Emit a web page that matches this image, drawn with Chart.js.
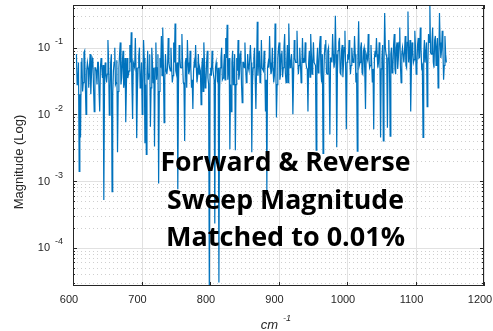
<!DOCTYPE html>
<html>
<head>
<meta charset="utf-8">
<script src="https://cdn.jsdelivr.net/npm/chart.js@4.4.0/dist/chart.umd.min.js"></script>
<style>
    html, body { margin: 0; padding: 0; background: #fff; }
    #wrap { position: relative; width: 493px; height: 331px; }
</style>
</head>
<body>
<div id="wrap"><canvas id="sweepChart" width="493" height="331"></canvas></div>
<script>
// Sweep sampling grid (cm^-1)
const sweepStart = 605;
const sweepStep = 1;

// Magnitude per sample, one row = 20 cm^-1
const magnitude = [
    0.08, 0.028, 0.03, 0.06, 0.0014, 0.02, 0.0045, 0.06, 0.07, 0.022, 0.03, 0.085, 0.09, 0.028, 0.01, 0.045, 0.06, 0.05, 0.025, 0.05,
    0.08, 0.02, 0.04, 0.07, 0.065, 0.025, 0.011, 0.05, 0.05, 0.045, 0.028, 0.06, 0.06, 0.022, 0.011, 0.05, 0.07, 0.05, 0.035, 0.055,
    0.00052, 0.028, 0.06, 0.04, 0.03, 0.04, 0.13, 0.06, 0.0097, 0.022, 0.06, 0.08, 0.00069, 0.02, 0.045, 0.06, 0.1, 0.028, 0.03, 0.065,
    0.0027, 0.022, 0.05, 0.08, 0.12, 0.028, 0.035, 0.06, 0.09, 0.025, 0.03, 0.07, 0.0076, 0.028, 0.07, 0.035, 0.04, 0.045, 0.11, 0.06,
    0.17, 0.028, 0.0085, 0.06, 0.06, 0.05, 0.14, 0.05, 0.0044, 0.022, 0.05, 0.075, 0.1, 0.025, 0.03, 0.06, 0.01, 0.028, 0.13, 0.07,
    0.0037, 0.028, 0.0025, 0.04, 0.09, 0.033, 0.04, 0.08, 0.0065, 0.025, 0.1, 0.06, 0.03, 0.05, 0.0033, 0.05, 0.12, 0.033, 0.05, 0.08,
    0.00092, 0.022, 0.07, 0.05, 0.15, 0.038, 0.2, 0.05, 0.0075, 0.033, 0.08, 0.045, 0.04, 0.05, 0.14, 0.06, 0.05, 0.045, 0.1, 0.05,
    0.03, 0.038, 0.12, 0.06, 0.23, 0.045, 0.04, 0.06, 0.00075, 0.028, 0.11, 0.07, 0.05, 0.05, 0.16, 0.06, 0.03, 0.028, 0.004, 0.06,
    0.07, 0.025, 0.13, 0.06, 0.04, 0.045, 0.09, 0.05, 0.025, 0.033, 0.012, 0.045, 0.06, 0.05, 0.11, 0.05, 0.03, 0.038, 0.08, 0.04,
    0.05, 0.045, 0.014, 0.05, 0.07, 0.022, 0.12, 0.06, 0.025, 0.028, 0.06, 0.09, 0.035, 0.028, 0.000022, 0.04, 0.05, 0.038, 0.09, 0.05,
    0.04, 0.033, 0.00023, 0.05, 0.06, 0.045, 0.03, 0.05, 0.00003, 0.022, 0.05, 0.07, 0.1, 0.033, 0.035, 0.05, 0.08, 0.033, 0.14, 0.07,
    0.22, 0.033, 0.05, 0.07, 0.003, 0.028, 0.011, 0.06, 0.09, 0.028, 0.04, 0.08, 0.0029, 0.028, 0.07, 0.045, 0.13, 0.033, 0.04, 0.08,
    0.09, 0.028, 0.015, 0.06, 0.06, 0.05, 0.12, 0.05, 0.03, 0.038, 0.08, 0.05, 0.045, 0.045, 0.11, 0.06, 0.0027, 0.028, 0.05, 0.07,
    0.1, 0.033, 0.012, 0.05, 0.245, 0.038, 0.06, 0.09, 0.03, 0.033, 0.13, 0.05, 0.05, 0.045, 0.09, 0.05, 0.011, 0.033, 0.00073, 0.05,
    0.06, 0.05, 0.15, 0.06, 0.04, 0.045, 0.1, 0.05, 0.03, 0.038, 0.23, 0.06, 0.009, 0.028, 0.07, 0.1, 0.12, 0.033, 0.04, 0.08,
    0.09, 0.036, 0.05, 0.1, 0.16, 0.042, 0.03, 0.06, 0.11, 0.03, 0.23, 0.08, 0.05, 0.06, 0.08, 0.05, 0.01, 0.036, 0.13, 0.07,
    0.06, 0.06, 0.18, 0.07, 0.04, 0.054, 0.1, 0.06, 0.03, 0.048, 0.14, 0.06, 0.07, 0.06, 0.12, 0.06, 0.05, 0.048, 0.011, 0.06,
    0.09, 0.036, 0.16, 0.08, 0.04, 0.06, 0.12, 0.06, 0.06, 0.054, 0.0029, 0.06, 0.1, 0.042, 0.05, 0.11, 0.15, 0.042, 0.03, 0.08,
    0.0026, 0.036, 0.08, 0.11, 0.13, 0.042, 0.04, 0.09, 0.1, 0.036, 0.005, 0.07, 0.07, 0.06, 0.16, 0.08, 0.05, 0.06, 0.3, 0.08,
    0.0032, 0.042, 0.09, 0.12, 0.14, 0.042, 0.04, 0.09, 0.11, 0.036, 0.06, 0.1, 0.18, 0.048, 0.006, 0.06, 0.08, 0.066, 0.13, 0.07,
    0.04, 0.054, 0.1, 0.07, 0.06, 0.066, 0.15, 0.08, 0.03, 0.042, 0.0028, 0.08, 0.25, 0.054, 0.06, 0.1, 0.12, 0.042, 0.04, 0.09,
    0.1, 0.042, 0.012, 0.08, 0.08, 0.066, 0.16, 0.07, 0.05, 0.054, 0.11, 0.06, 0.03, 0.048, 0.006, 0.07, 0.09, 0.072, 0.14, 0.08,
    0.05, 0.06, 0.12, 0.07, 0.0045, 0.048, 0.07, 0.11, 0.004, 0.054, 0.33, 0.1, 0.08, 0.072, 0.0063, 0.07, 0.13, 0.054, 0.0047, 0.08,
    0.1, 0.042, 0.05, 0.11, 0.16, 0.048, 0.04, 0.1, 0.12, 0.048, 0.07, 0.12, 0.2, 0.054, 0.03, 0.08, 0.1, 0.078, 0.06, 0.09,
    0.15, 0.054, 0.05, 0.12, 0.35, 0.06, 0.08, 0.13, 0.011, 0.048, 0.12, 0.09, 0.06, 0.066, 0.18, 0.1, 0.04, 0.054, 0.11, 0.14,
    0.07, 0.072, 0.2, 0.1, 0.05, 0.054, 0.0045, 0.08, 0.13, 0.06, 0.06, 0.12, 0.013, 0.054, 0.16, 0.12, 0.42, 0.084, 0.08, 0.12,
    0.2, 0.06, 0.05, 0.13, 0.15, 0.054, 0.1, 0.14, 0.025, 0.06, 0.33, 0.12, 0.07, 0.09, 0.18, 0.1, 0.033, 0.054, 0.15, 0.08, 0.06
];

// Axis ticks
const xTicks = [600, 700, 800, 900, 1000, 1100, 1200];
const yExponents = [-4, -3, -2, -1];
const yMinorExponents = [-5, -4, -3, -2, -1];

const annotationLines = ['Forward & Reverse', 'Sweep Magnitude', 'Matched to 0.01%'];

const axisColor = '#262626';
const tickFont = "'Liberation Sans', Arial, sans-serif";

// Grid, box, tick marks and labels in the MATLAB look
const matlabAxes = {
    id: 'matlabAxes',
    beforeDatasetsDraw(chart) {
        const { ctx, chartArea: a, scales: { x, y } } = chart;
        ctx.save();
        ctx.lineWidth = 1;

        // minor dotted lines
        ctx.strokeStyle = '#cfcfcf';
        ctx.setLineDash([1, 3]);
        yMinorExponents.forEach(e => {
            for (let k = 2; k <= 9; k++) {
                const v = k * Math.pow(10, e);
                if (v <= y.min || v >= y.max) continue;
                const py = Math.round(y.getPixelForValue(v)) + 0.5;
                ctx.beginPath();
                ctx.moveTo(a.left, py);
                ctx.lineTo(a.right, py);
                ctx.stroke();
            }
        });
        ctx.setLineDash([]);

        // major solid lines
        ctx.strokeStyle = '#e1e1e1';
        yExponents.forEach(e => {
            const py = Math.round(y.getPixelForValue(Math.pow(10, e))) + 0.5;
            ctx.beginPath();
            ctx.moveTo(a.left, py);
            ctx.lineTo(a.right, py);
            ctx.stroke();
        });
        xTicks.forEach(t => {
            const px = Math.round(x.getPixelForValue(t)) + 0.5;
            ctx.beginPath();
            ctx.moveTo(px, a.top);
            ctx.lineTo(px, a.bottom);
            ctx.stroke();
        });
        ctx.restore();
    },
    afterDatasetsDraw(chart) {
        const { ctx, chartArea: a, scales: { x, y } } = chart;
        ctx.save();
        ctx.strokeStyle = axisColor;
        ctx.lineWidth = 1;
        ctx.strokeRect(a.left + 0.5, a.top + 0.5, a.right - a.left - 1, a.bottom - a.top - 1);

        // inward tick marks
        ctx.beginPath();
        xTicks.forEach(t => {
            const px = Math.round(x.getPixelForValue(t)) + 0.5;
            ctx.moveTo(px, a.bottom); ctx.lineTo(px, a.bottom - 4);
            ctx.moveTo(px, a.top); ctx.lineTo(px, a.top + 4);
        });
        yExponents.forEach(e => {
            const py = Math.round(y.getPixelForValue(Math.pow(10, e))) + 0.5;
            ctx.moveTo(a.left, py); ctx.lineTo(a.left + 4, py);
            ctx.moveTo(a.right, py); ctx.lineTo(a.right - 4, py);
        });
        yMinorExponents.forEach(e => {
            for (let k = 2; k <= 9; k++) {
                const v = k * Math.pow(10, e);
                if (v <= y.min || v >= y.max) continue;
                const py = Math.round(y.getPixelForValue(v)) + 0.5;
                ctx.moveTo(a.left, py); ctx.lineTo(a.left + 2, py);
                ctx.moveTo(a.right, py); ctx.lineTo(a.right - 2, py);
            }
        });
        ctx.stroke();

        // tick labels
        ctx.fillStyle = axisColor;
        ctx.textBaseline = 'middle';
        ctx.textAlign = 'center';
        ctx.font = `11px ${tickFont}`;
        xTicks.forEach(t => {
            ctx.fillText(String(t), x.getPixelForValue(t) - 4, 300);
        });
        yExponents.forEach(e => {
            const py = y.getPixelForValue(Math.pow(10, e));
            ctx.font = `11px ${tickFont}`;
            ctx.textAlign = 'right';
            ctx.fillText('10', 50, py + 0.5);
            ctx.font = `9px ${tickFont}`;
            ctx.textAlign = 'left';
            ctx.fillText(String(e), 55, py - 6);
        });

        // axis titles
        ctx.save();
        ctx.translate(19, 162);
        ctx.rotate(-Math.PI / 2);
        ctx.textAlign = 'center';
        ctx.font = `13px ${tickFont}`;
        ctx.fillText('Magnitude (Log)', 0, 0);
        ctx.restore();

        ctx.textBaseline = 'alphabetic';
        ctx.textAlign = 'right';
        ctx.font = `italic 13px ${tickFont}`;
        ctx.fillText('cm', 278, 329);
        ctx.textAlign = 'left';
        ctx.font = `italic 9px ${tickFont}`;
        ctx.fillText('-1', 283, 321);

        // annotation, each line fitted to its width
        const widths = [250, 237, 239];
        const baselines = [170.5, 208.5, 246];
        ctx.fillStyle = '#000';
        ctx.textAlign = 'center';
        ctx.font = "bold 27px 'Open Sans', Lato, sans-serif";
        annotationLines.forEach((line, i) => {
            const w = ctx.measureText(line).width;
            ctx.save();
            ctx.translate(285.5, baselines[i]);
            ctx.scale(widths[i] / w, 1);
            ctx.fillText(line, 0, 0);
            ctx.restore();
        });
        ctx.restore();
    }
};

new Chart(document.getElementById('sweepChart'), {
    type: 'line',
    data: {
        datasets: [{
            data: magnitude.map((v, i) => ({ x: sweepStart + i * sweepStep, y: v })),
            borderColor: '#0072BD',
            borderWidth: 1.2,
            pointRadius: 0,
            tension: 0,
            fill: false
        }]
    },
    options: {
        responsive: false,
        animation: false,
        devicePixelRatio: 1,
        layout: { padding: { left: 73, top: 5, right: 9, bottom: 45 } },
        plugins: { legend: { display: false }, tooltip: { enabled: false } },
        scales: {
            x: { type: 'linear', display: false, min: 600, max: 1200 },
            y: { type: 'logarithmic', display: false, min: 2.665e-5, max: 0.4365 }
        }
    },
    plugins: [matlabAxes]
});
</script>
</body>
</html>
